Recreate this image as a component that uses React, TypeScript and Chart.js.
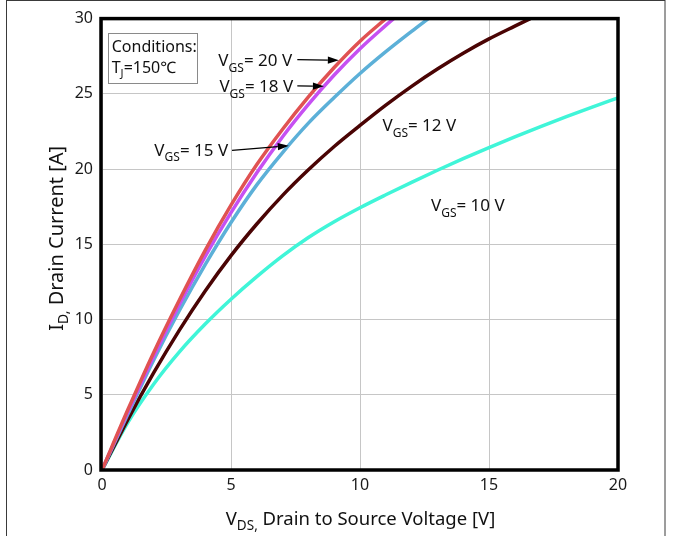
import React, { useEffect, useRef } from "react";
import { Chart, registerables } from "chart.js";

Chart.register(...registerables);

const FONT = "'Noto Sans', 'Open Sans', 'DejaVu Sans', sans-serif";

// ---- data ----
const vds20 = [0, 1, 2, 3, 4, 5, 6, 7, 8, 9, 10, 11];
const id20 = [0, 4.0, 7.8, 11.3, 14.6, 17.6, 20.3, 22.65, 24.8, 26.75, 28.5, 30.0];

const vds18 = [0, 1, 2, 3, 4, 5, 6, 7, 8, 9, 10, 11, 11.3];
const id18 = [0, 3.85, 7.55, 11.0, 14.2, 17.1, 19.75, 22.15, 24.3, 26.25, 28.0, 29.55, 30.0];

const vds15 = [0, 1, 2, 3, 4, 5, 6, 7, 8, 9, 10, 11, 12, 12.65];
const id15 = [0, 3.7, 7.3, 10.6, 13.65, 16.45, 18.95, 21.1, 23.05, 24.75, 26.35, 27.8, 29.15, 30.0];

const vds12 = [0, 1, 2, 3, 4, 5, 6, 7, 8, 9, 10, 11, 12, 13, 14, 15, 16, 16.6];
const id12 = [0, 3.35, 6.45, 9.3, 11.9, 14.25, 16.35, 18.25, 19.95, 21.5, 22.9, 24.25, 25.5, 26.65, 27.7, 28.65, 29.5, 30.0];

const vds10 = [0, 1, 2, 3, 4, 5, 6, 7, 8, 9, 10, 11, 12, 13, 14, 15, 16, 17, 18, 19, 20];
const id10 = [0, 3.15, 5.7, 7.85, 9.7, 11.35, 12.85, 14.23, 15.45, 16.5, 17.43, 18.29, 19.12, 19.92, 20.69, 21.43, 22.14, 22.82, 23.48, 24.12, 24.73];

const seriesNames = ["VGS = 20 V", "VGS = 18 V", "VGS = 15 V", "VGS = 12 V", "VGS = 10 V"];
const seriesX = [vds20, vds18, vds15, vds12, vds10];
const seriesY = [id20, id18, id15, id12, id10];
const seriesColors = ["#e05252", "#c650f2", "#5cb0d8", "#4a0404", "#40f5d8"];

const xTicks = [0, 5, 10, 15, 20];
const yTicks = [0, 5, 10, 15, 20, 25, 30];

// curve labels: "V" + sub "GS" + rest, anchored at (left V, baseline A)
const labelRest = ["= 20 V", "= 18 V", "= 15 V", "= 12 V", "= 10 V"];
const labelX = [4.51, 4.55, 2.03, 10.87, 12.75];
const labelY = [26.82, 25.09, 20.9, 22.5, 17.2];

// arrows: tail -> head (data units)
const arrowTailX = [7.57, 7.57, 5.04];
const arrowTailY = [27.27, 25.53, 21.24];
const arrowHeadX = [9.18, 8.6, 7.24];
const arrowHeadY = [27.23, 25.5, 21.55];

// conditions box
const condBoxX = [0.245, 3.68];
const condBoxY = [25.73, 29.05];
const condTextX = 0.377;
const condLine1Y = 27.78;
const condLine2Y = 26.39;

const xTitle = [
  { t: "V" },
  { t: "DS,", sub: true },
  { t: " Drain to Source Voltage [V]" },
];
const yTitle = [
  { t: "I" },
  { t: "D,", sub: true },
  { t: " Drain Current [A]" },
];

type Part = { t: string; sub?: boolean };

function richWidth(ctx: CanvasRenderingContext2D, parts: Part[], size: number, subSize: number) {
  let w = 0;
  for (const p of parts) {
    ctx.font = `${p.sub ? subSize : size}px ${FONT}`;
    w += ctx.measureText(p.t).width;
  }
  return w;
}

function drawRich(
  ctx: CanvasRenderingContext2D,
  parts: Part[],
  x: number,
  y: number,
  size: number,
  subSize: number,
  subDy: number,
  align: "left" | "center"
) {
  const w = richWidth(ctx, parts, size, subSize);
  let cx = align === "center" ? x - w / 2 : x;
  ctx.textAlign = "left";
  ctx.textBaseline = "alphabetic";
  for (const p of parts) {
    ctx.font = `${p.sub ? subSize : size}px ${FONT}`;
    ctx.fillText(p.t, cx, p.sub ? y + subDy : y);
    cx += ctx.measureText(p.t).width;
  }
}

function drawArrow(ctx: CanvasRenderingContext2D, x1: number, y1: number, x2: number, y2: number) {
  const ang = Math.atan2(y2 - y1, x2 - x1);
  const len = 11;
  const hw = 3.6;
  const bx = x2 - len * Math.cos(ang);
  const by = y2 - len * Math.sin(ang);
  ctx.beginPath();
  ctx.moveTo(x1, y1);
  ctx.lineTo(bx, by);
  ctx.lineWidth = 1.3;
  ctx.strokeStyle = "#000";
  ctx.stroke();
  ctx.beginPath();
  ctx.moveTo(x2, y2);
  ctx.lineTo(bx + hw * Math.sin(ang), by - hw * Math.cos(ang));
  ctx.lineTo(bx - hw * Math.sin(ang), by + hw * Math.cos(ang));
  ctx.closePath();
  ctx.fillStyle = "#000";
  ctx.fill();
}

const decorPlugin = {
  id: "decor",
  afterDatasetsDraw(chart: any) {
    const ctx: CanvasRenderingContext2D = chart.ctx;
    const xs = chart.scales.x;
    const ys = chart.scales.y;
    const a = chart.chartArea;
    const px = (v: number) => xs.getPixelForValue(v);
    const py = (v: number) => ys.getPixelForValue(v);
    ctx.save();

    // plot frame
    ctx.lineWidth = 3.5;
    ctx.strokeStyle = "#000";
    ctx.strokeRect(a.left - 1, a.top, a.right - a.left + 1, a.bottom - a.top);

    // conditions box
    ctx.lineWidth = 1;
    ctx.strokeStyle = "#8a8a8a";
    const bx0 = Math.round(px(condBoxX[0])) + 0.5;
    const bx1 = Math.round(px(condBoxX[1])) + 0.5;
    const by0 = Math.round(py(condBoxY[1])) + 0.5;
    const by1 = Math.round(py(condBoxY[0])) + 0.5;
    ctx.strokeRect(bx0, by0, bx1 - bx0, by1 - by0);
    ctx.fillStyle = "#111";
    drawRich(ctx, [{ t: "Conditions:" }], px(condTextX), py(condLine1Y), 16, 11, 4, "left");
    drawRich(
      ctx,
      [{ t: "T" }, { t: "J", sub: true }, { t: "=150℃" }],
      px(condTextX),
      py(condLine2Y),
      16,
      11,
      4,
      "left"
    );

    // curve labels
    for (let i = 0; i < labelRest.length; i++) {
      ctx.fillStyle = "#111";
      drawRich(
        ctx,
        [{ t: "V" }, { t: "GS", sub: true }, { t: labelRest[i] }],
        px(labelX[i]),
        py(labelY[i]),
        17,
        12,
        5.5,
        "left"
      );
    }

    // arrows
    for (let i = 0; i < arrowTailX.length; i++) {
      drawArrow(ctx, px(arrowTailX[i]), py(arrowTailY[i]), px(arrowHeadX[i]), py(arrowHeadY[i]));
    }

    // axis titles
    ctx.fillStyle = "#111";
    drawRich(ctx, xTitle, 360.5, 524.7, 18.5, 13.5, 5, "center");
    ctx.save();
    ctx.translate(63.3, 238.3);
    ctx.rotate(-Math.PI / 2);
    drawRich(ctx, yTitle, 0, 0, 20, 14, 5, "center");
    ctx.restore();

    // outer figure frame
    ctx.lineWidth = 1;
    ctx.strokeStyle = "#3a3a3a";
    ctx.strokeRect(6.5, 0.5, 658.5, 600);

    ctx.restore();
  },
};

export default function App() {
  const ref = useRef<HTMLCanvasElement | null>(null);

  useEffect(() => {
    if (!ref.current) return;
    const datasets = seriesNames.map((name, i) => ({
      label: name,
      data: seriesX[i].map((x, j) => ({ x, y: seriesY[i][j] })),
      borderColor: seriesColors[i],
      backgroundColor: seriesColors[i],
      borderWidth: 3.5,
      pointRadius: 0,
      fill: false,
      showLine: true,
      cubicInterpolationMode: "monotone" as const,
    }));

    const chart = new Chart(ref.current, {
      type: "scatter",
      data: { datasets },
      options: {
        animation: false,
        responsive: false,
        devicePixelRatio: 1,
        layout: { padding: { top: 16, right: 57, left: 0, bottom: 0 } },
        plugins: {
          legend: { display: false },
          tooltip: { enabled: false },
          title: { display: false },
        },
        scales: {
          x: {
            type: "linear",
            min: 0,
            max: 20,
            afterFit: (s: any) => {
              s.height = 66;
            },
            afterBuildTicks: (s: any) => {
              s.ticks = xTicks.map((v) => ({ value: v }));
            },
            grid: { color: "#c6c6c6", lineWidth: 1, drawTicks: false },
            border: { display: false },
            ticks: {
              padding: 6,
              color: "#1a1a1a",
              font: { family: FONT, size: 16 },
            },
          },
          y: {
            type: "linear",
            min: 0,
            max: 30,
            afterFit: (s: any) => {
              s.width = 102;
            },
            afterBuildTicks: (s: any) => {
              s.ticks = yTicks.map((v) => ({ value: v }));
            },
            grid: { color: "#c6c6c6", lineWidth: 1, drawTicks: false },
            border: { display: false },
            ticks: {
              padding: 9,
              color: "#1a1a1a",
              font: { family: FONT, size: 16 },
            },
          },
        },
      },
      plugins: [decorPlugin],
    });
    return () => chart.destroy();
  }, []);

  return (
    <div style={{ position: "fixed", left: 0, top: 0, width: 675, height: 536, background: "#fff" }}>
      <canvas ref={ref} width={675} height={536} style={{ width: 675, height: 536, display: "block" }} />
    </div>
  );
}
